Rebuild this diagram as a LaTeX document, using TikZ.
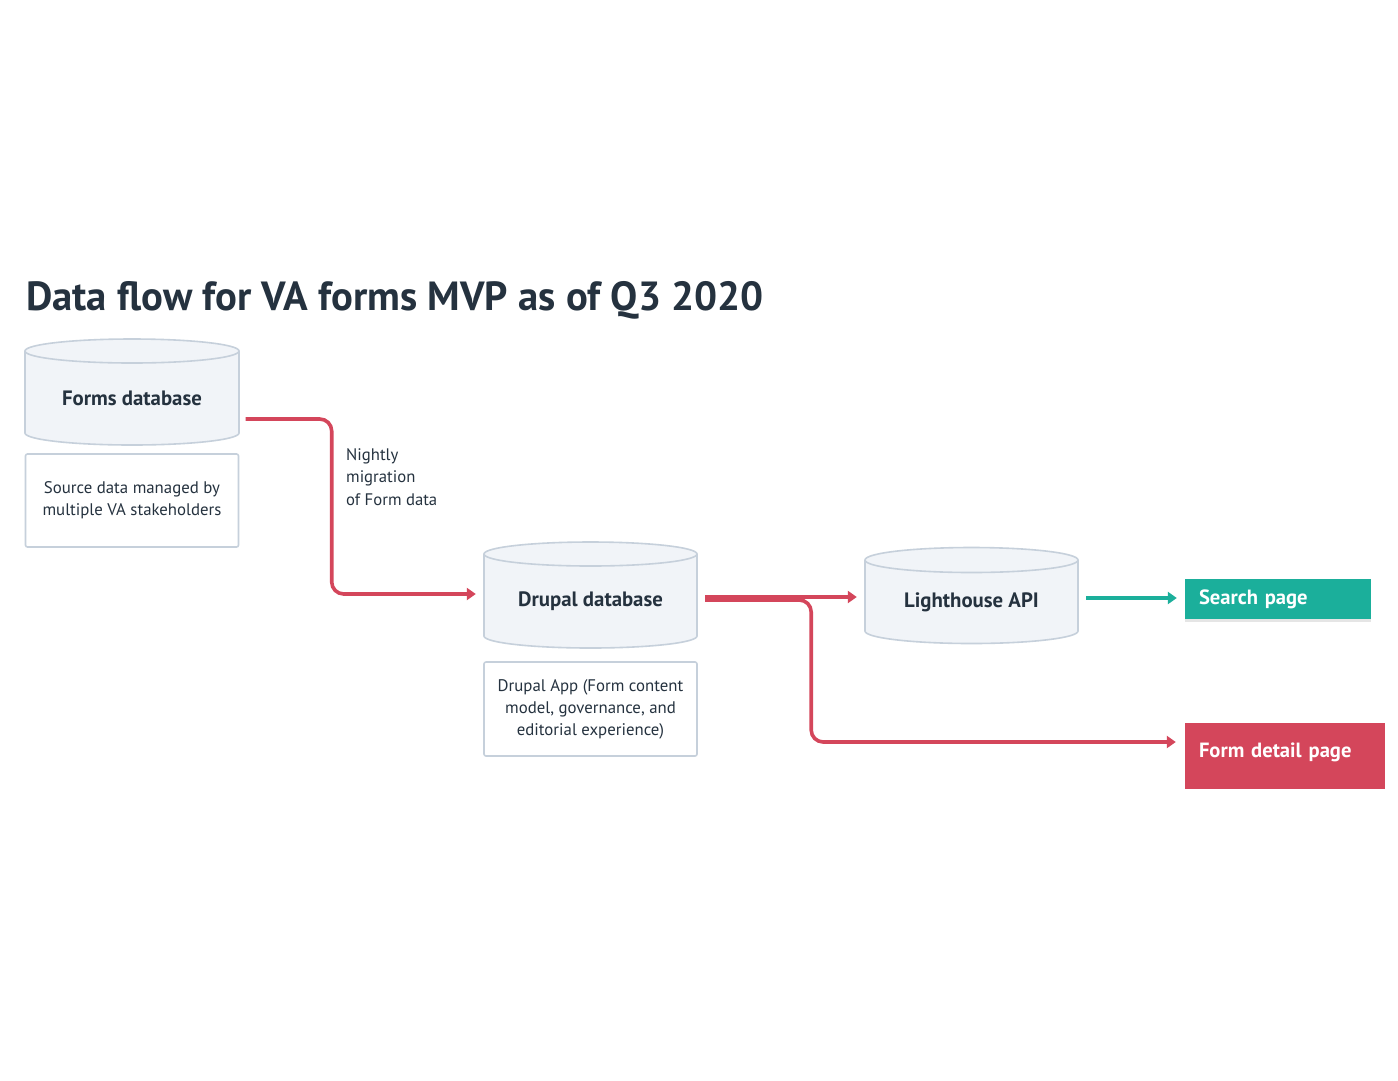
\documentclass[tikz,border=0pt]{standalone}
\usepackage{fontspec}
\setmainfont{PT Sans}
\usetikzlibrary{arrows.meta,shadows}
\definecolor{ink}{HTML}{25323F}
\definecolor{cylfill}{HTML}{F1F4F8}
\definecolor{cylline}{HTML}{C6D0DB}
\definecolor{vared}{HTML}{D4465B}
\definecolor{vateal}{HTML}{1BAF9B}
\newcommand\drawcyl[5]{%
  \pgfmathsetmacro\cylrx{(#2-#1)/2}%
  \filldraw[cyl] (#1,-#3) -- (#1,-#4) arc[start angle=180,end angle=360,x radius=\cylrx,y radius=#5] -- (#2,-#3) arc[start angle=0,end angle=180,x radius=\cylrx,y radius=#5] -- cycle;
  \draw[cyl] (#1,-#3) arc[start angle=180,end angle=360,x radius=\cylrx,y radius=#5];
}
\tikzset{
  cyl/.style={draw=cylline, fill=cylfill, line width=1.6pt},
  dbtext/.style={font=\fontsize{20.8}{24}\selectfont\bfseries, text=ink, minimum width=213pt, minimum height=70pt, inner sep=0pt},
  notebox/.style={draw=cylline, line width=1.6pt, fill=white, rounded corners=2pt, minimum width=213pt, align=center, font=\fontsize{16.8}{22}\selectfont, text=ink},
  labeltext/.style={align=left, font=\fontsize{16.7}{22.5}\selectfont, text=ink, inner sep=0pt},
  pagebox/.style={font=\fontsize{20.6}{24}\selectfont\bfseries, text=white, align=left, inner xsep=14pt, inner ysep=0pt},
  redline/.style={draw=vared, line width=3.6pt, -{Triangle[length=9pt,width=12pt]}},
  tealline/.style={draw=vateal, line width=3.6pt, -{Triangle[length=9pt,width=12pt]}},
}
\begin{document}
\begin{tikzpicture}[x=1pt,y=1pt]
\useasboundingbox (0,0) rectangle (1398,-1080);
\fill[white] (0,0) rectangle (1398,-1080);

\node[anchor=base west, inner sep=0pt, text=ink, font=\fontsize{40.7}{48}\selectfont\bfseries] (title) at (26,-310) {Data flow for VA forms MVP as of Q3 2020};

% cylinders
\drawcyl{25}{239}{351}{433}{12}
\drawcyl{484}{697}{554}{636}{12}
\drawcyl{865}{1078}{560}{631}{12.5}

\node[dbtext] (forms) at (132,-398) {Forms database};
\node[dbtext] (drupal) at (590.5,-601) {Drupal database};
\node[dbtext] (light) at (971.5,-602) {Lighthouse API};

\node[notebox, minimum height=93pt] (src) at (132,-500.5) {Source data managed by\\multiple VA stakeholders};
\node[notebox, minimum height=94pt] (app) at (590.5,-709) {Drupal App (Form content\\model, governance, and\\editorial experience)};

\node[labeltext, anchor=north west] (lbl) at (346,-448) {Nightly\\migration\\of Form data};

\node[pagebox, fill=vateal, minimum width=186pt, minimum height=40pt, text width=158pt,
      drop shadow={opacity=0.2, shadow xshift=0pt, shadow yshift=-2.5pt}] (search) at (1278,-599) {Search page};
\node[pagebox, fill=vared, minimum width=200pt, minimum height=66pt, text width=172pt, text depth=12pt] (detail) at (1285,-756) {Form detail page};

% connectors
\draw[redline, rounded corners=12pt] ([xshift=7pt,yshift=-21pt]forms.east) -- ++(86,0) |- ([xshift=-8pt,yshift=7pt]drupal.west);
\draw[redline] ([xshift=8pt,yshift=4pt]drupal.east) -- ([xshift=-8pt,yshift=5pt]light.west);
\draw[redline, rounded corners=12pt] ([xshift=8pt,yshift=1pt]drupal.east) -- ++(106,0) |- ([xshift=-9pt,yshift=14pt]detail.west);
\draw[tealline] ([xshift=8pt,yshift=4pt]light.east) -- ([xshift=-8pt,yshift=1pt]search.west);
\end{tikzpicture}
\end{document}
